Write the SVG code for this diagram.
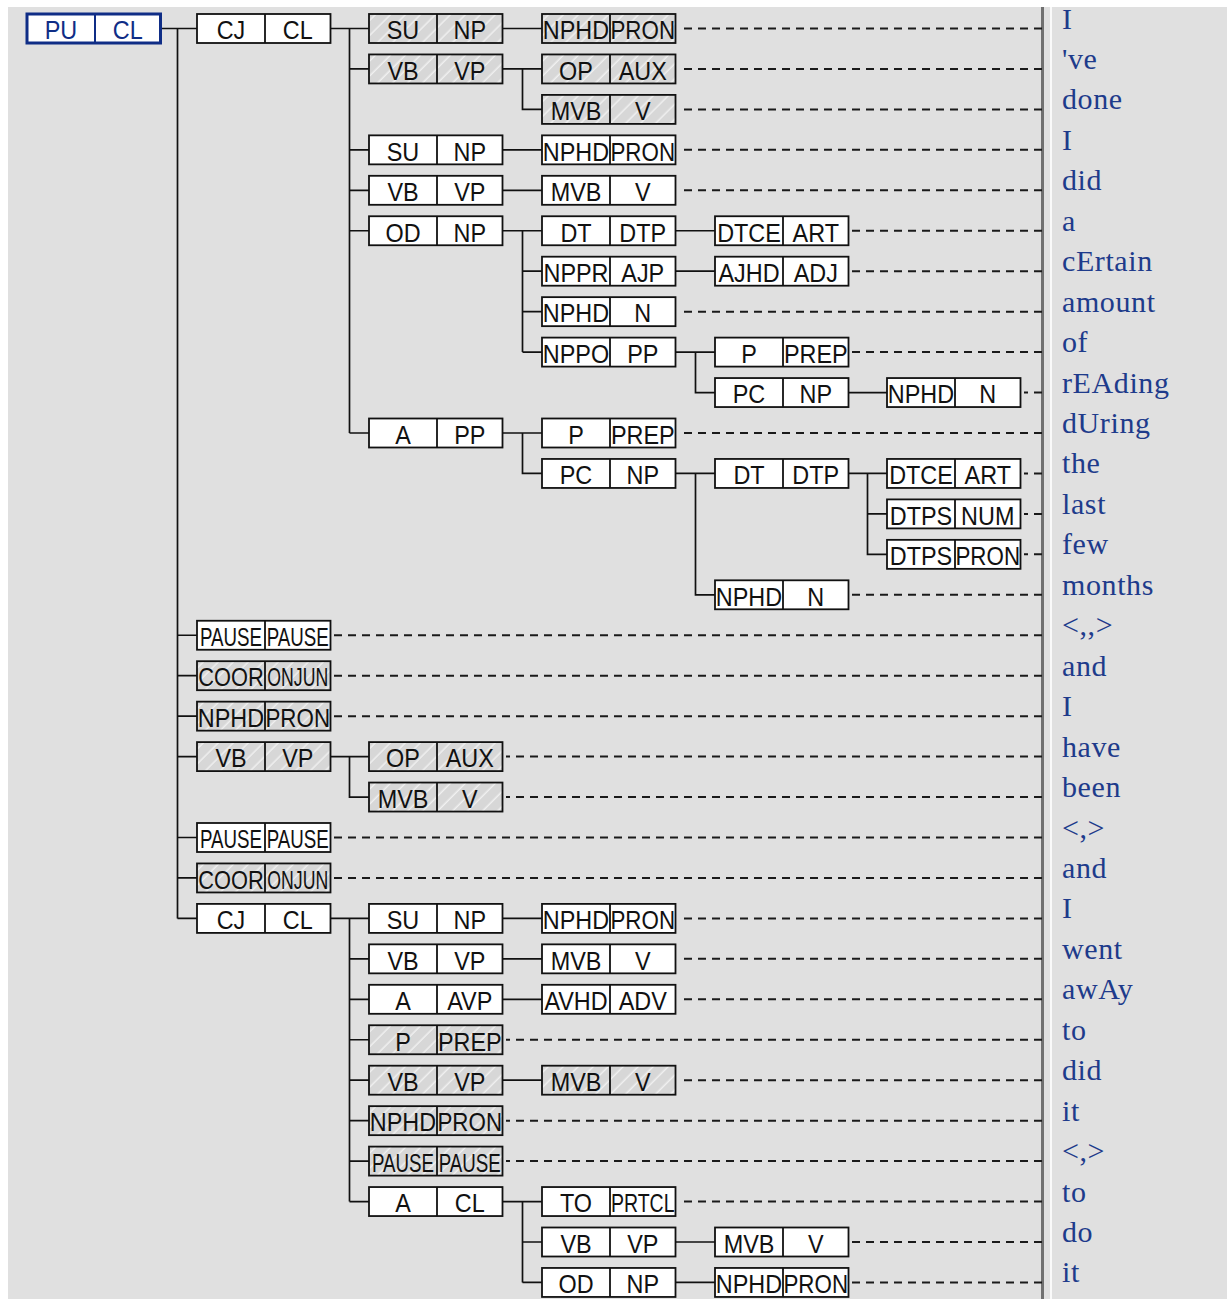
<svg xmlns="http://www.w3.org/2000/svg" width="1227" height="1302" viewBox="0 0 1227 1302">
<defs>
<pattern id="hatch" patternUnits="userSpaceOnUse" width="10.6" height="10.6" patternTransform="rotate(45)">
<rect width="10.6" height="10.6" fill="#d7d7d7"/>
<line x1="5" y1="0" x2="5" y2="10.6" stroke="#f6f6f6" stroke-width="1.2"/>
</pattern>
</defs>
<style>
.bg{fill:#e0e0e0}
.bx rect{fill:#fff;stroke:#111;stroke-width:1.8}
.bx.h rect{fill:url(#hatch)}
.bx path{stroke:#111;stroke-width:1.8;fill:none}
.bx text{font-family:"Liberation Sans",Arial,sans-serif;font-size:26px;text-anchor:middle;fill:#111;transform:scaleX(0.9);transform-box:fill-box;transform-origin:center}
.bx text.s86{transform:scaleX(0.86)}
.bx text.s84{transform:scaleX(0.84)}
.bx text.s75{transform:scaleX(0.75)}
.bx text.s72{transform:scaleX(0.72)}
.bx text.s68{transform:scaleX(0.68)}
.root rect{stroke:#0f2d86;stroke-width:3}
.root path{stroke:#0f2d86;stroke-width:2}
.root text{fill:#0f2d86}
#connectors path{stroke:#111;stroke-width:1.7;fill:none}
#dashes path{stroke:#1a1a1a;stroke-width:2;fill:none;stroke-dasharray:8 6}
.w{font-family:"Liberation Serif","Times New Roman",serif;font-size:30px;letter-spacing:0.6px;fill:#1e3b8b}
</style>
<rect width="1227" height="1302" fill="#fff"/>
<rect class="bg" x="8" y="7" width="1219" height="1292"/>
<rect x="1041" y="7" width="3" height="1292" fill="#707070"/>
<rect x="1050" y="7" width="2" height="1292" fill="#fafafa"/>

<g id="connectors">
<path d="M160.5 28.5H197M177.5 28.5V918.4M177.5 635.25H197M177.5 675.7H197M177.5 716.15H197M177.5 756.6H197M177.5 837.5H197M177.5 877.95H197M177.5 918.4H197"/>
<path d="M330.5 28.5H369M349.5 28.5V433M349.5 68.95H369M349.5 149.85H369M349.5 190.3H369M349.5 230.75H369M349.5 433H369"/>
<path d="M502.5 28.5H542"/>
<path d="M502.5 68.95H542M522.5 68.95V109.4H542"/>
<path d="M502.5 149.85H542"/>
<path d="M502.5 190.3H542"/>
<path d="M502.5 230.75H542M522.5 230.75V352.1M522.5 271.2H542M522.5 311.65H542M522.5 352.1H542"/>
<path d="M675.5 230.75H715"/>
<path d="M675.5 271.2H715"/>
<path d="M675.5 352.1H715M695.5 352.1V392.55H715"/>
<path d="M848.5 392.55H887"/>
<path d="M502.5 433H542M522.5 433V473.45H542"/>
<path d="M675.5 473.45H715M695.5 473.45V594.8H715"/>
<path d="M848.5 473.45H887M867.5 473.45V554.35H887M867.5 513.9H887"/>
<path d="M330.5 756.6H369M349.5 756.6V797.05H369"/>
<path d="M330.5 918.4H369M349.5 918.4V1201.55M349.5 958.85H369M349.5 999.3H369M349.5 1039.75H369M349.5 1080.2H369M349.5 1120.65H369M349.5 1161.1H369M349.5 1201.55H369"/>
<path d="M502.5 918.4H542"/>
<path d="M502.5 958.85H542"/>
<path d="M502.5 999.3H542"/>
<path d="M502.5 1080.2H542"/>
<path d="M502.5 1201.55H542M522.5 1201.55V1282.45M522.5 1242H542M522.5 1282.45H542"/>
<path d="M675.5 1242H715"/>
<path d="M675.5 1282.45H715"/>
</g>

<g id="dashes">
<path d="M1042 28.5H679"/>
<path d="M1042 68.95H679"/>
<path d="M1042 109.4H679"/>
<path d="M1042 149.85H679"/>
<path d="M1042 190.3H679"/>
<path d="M1042 230.75H852"/>
<path d="M1042 271.2H852"/>
<path d="M1042 311.65H679"/>
<path d="M1042 352.1H852"/>
<path d="M1042 392.55H1024"/>
<path d="M1042 433H679"/>
<path d="M1042 473.45H1024"/>
<path d="M1042 513.9H1024"/>
<path d="M1042 554.35H1024"/>
<path d="M1042 594.8H852"/>
<path d="M1042 635.25H334"/>
<path d="M1042 675.7H334"/>
<path d="M1042 716.15H334"/>
<path d="M1042 756.6H506"/>
<path d="M1042 797.05H506"/>
<path d="M1042 837.5H334"/>
<path d="M1042 877.95H334"/>
<path d="M1042 918.4H679"/>
<path d="M1042 958.85H679"/>
<path d="M1042 999.3H679"/>
<path d="M1042 1039.75H506"/>
<path d="M1042 1080.2H679"/>
<path d="M1042 1120.65H506"/>
<path d="M1042 1161.1H506"/>
<path d="M1042 1201.55H679"/>
<path d="M1042 1242H852"/>
<path d="M1042 1282.45H852"/>
</g>

<g id="n0" class="bx root" transform="translate(27,14)"><rect width="133.5" height="29"/><path d="M68 0V29"/><text x="34" y="25.3">PU</text><text x="100.75" y="25.3">CL</text></g>

<g id="n1" class="bx" transform="translate(197,14)"><rect width="133.5" height="29"/><path d="M68 0V29"/><text x="34" y="25.3">CJ</text><text x="100.75" y="25.3">CL</text></g>
<g id="n2" class="bx" transform="translate(197,620.75)"><rect width="133.5" height="29"/><path d="M68 0V29"/><text class="s72" x="34" y="25.3">PAUSE</text><text class="s72" x="100.75" y="25.3">PAUSE</text></g>
<g id="n3" class="bx h" transform="translate(197,661.2)"><rect width="133.5" height="29"/><path d="M68 0V29"/><text class="s84" x="34" y="25.3">COOR</text><text class="s68" x="100.75" y="25.3">ONJUN</text></g>
<g id="n4" class="bx h" transform="translate(197,701.65)"><rect width="133.5" height="29"/><path d="M68 0V29"/><text x="34" y="25.3">NPHD</text><text class="s86" x="100.75" y="25.3">PRON</text></g>
<g id="n5" class="bx h" transform="translate(197,742.1)"><rect width="133.5" height="29"/><path d="M68 0V29"/><text x="34" y="25.3">VB</text><text x="100.75" y="25.3">VP</text></g>
<g id="n6" class="bx" transform="translate(197,823)"><rect width="133.5" height="29"/><path d="M68 0V29"/><text class="s72" x="34" y="25.3">PAUSE</text><text class="s72" x="100.75" y="25.3">PAUSE</text></g>
<g id="n7" class="bx h" transform="translate(197,863.45)"><rect width="133.5" height="29"/><path d="M68 0V29"/><text class="s84" x="34" y="25.3">COOR</text><text class="s68" x="100.75" y="25.3">ONJUN</text></g>
<g id="n8" class="bx" transform="translate(197,903.9)"><rect width="133.5" height="29"/><path d="M68 0V29"/><text x="34" y="25.3">CJ</text><text x="100.75" y="25.3">CL</text></g>

<g id="n9" class="bx h" transform="translate(369,14)"><rect width="133.5" height="29"/><path d="M68 0V29"/><text x="34" y="25.3">SU</text><text x="100.75" y="25.3">NP</text></g>
<g id="n10" class="bx h" transform="translate(369,54.45)"><rect width="133.5" height="29"/><path d="M68 0V29"/><text x="34" y="25.3">VB</text><text x="100.75" y="25.3">VP</text></g>
<g id="n11" class="bx" transform="translate(369,135.35)"><rect width="133.5" height="29"/><path d="M68 0V29"/><text x="34" y="25.3">SU</text><text x="100.75" y="25.3">NP</text></g>
<g id="n12" class="bx" transform="translate(369,175.8)"><rect width="133.5" height="29"/><path d="M68 0V29"/><text x="34" y="25.3">VB</text><text x="100.75" y="25.3">VP</text></g>
<g id="n13" class="bx" transform="translate(369,216.25)"><rect width="133.5" height="29"/><path d="M68 0V29"/><text x="34" y="25.3">OD</text><text x="100.75" y="25.3">NP</text></g>
<g id="n14" class="bx" transform="translate(369,418.5)"><rect width="133.5" height="29"/><path d="M68 0V29"/><text x="34" y="25.3">A</text><text x="100.75" y="25.3">PP</text></g>
<g id="n15" class="bx h" transform="translate(369,742.1)"><rect width="133.5" height="29"/><path d="M68 0V29"/><text x="34" y="25.3">OP</text><text x="100.75" y="25.3">AUX</text></g>
<g id="n16" class="bx h" transform="translate(369,782.55)"><rect width="133.5" height="29"/><path d="M68 0V29"/><text x="34" y="25.3">MVB</text><text x="100.75" y="25.3">V</text></g>
<g id="n17" class="bx" transform="translate(369,903.9)"><rect width="133.5" height="29"/><path d="M68 0V29"/><text x="34" y="25.3">SU</text><text x="100.75" y="25.3">NP</text></g>
<g id="n18" class="bx" transform="translate(369,944.35)"><rect width="133.5" height="29"/><path d="M68 0V29"/><text x="34" y="25.3">VB</text><text x="100.75" y="25.3">VP</text></g>
<g id="n19" class="bx" transform="translate(369,984.8)"><rect width="133.5" height="29"/><path d="M68 0V29"/><text x="34" y="25.3">A</text><text x="100.75" y="25.3">AVP</text></g>
<g id="n20" class="bx h" transform="translate(369,1025.25)"><rect width="133.5" height="29"/><path d="M68 0V29"/><text x="34" y="25.3">P</text><text x="100.75" y="25.3">PREP</text></g>
<g id="n21" class="bx h" transform="translate(369,1065.7)"><rect width="133.5" height="29"/><path d="M68 0V29"/><text x="34" y="25.3">VB</text><text x="100.75" y="25.3">VP</text></g>
<g id="n22" class="bx h" transform="translate(369,1106.15)"><rect width="133.5" height="29"/><path d="M68 0V29"/><text x="34" y="25.3">NPHD</text><text class="s86" x="100.75" y="25.3">PRON</text></g>
<g id="n23" class="bx h" transform="translate(369,1146.6)"><rect width="133.5" height="29"/><path d="M68 0V29"/><text class="s72" x="34" y="25.3">PAUSE</text><text class="s72" x="100.75" y="25.3">PAUSE</text></g>
<g id="n24" class="bx" transform="translate(369,1187.05)"><rect width="133.5" height="29"/><path d="M68 0V29"/><text x="34" y="25.3">A</text><text x="100.75" y="25.3">CL</text></g>

<g id="n25" class="bx h" transform="translate(542,14)"><rect width="133.5" height="29"/><path d="M68 0V29"/><text x="34" y="25.3">NPHD</text><text class="s86" x="100.75" y="25.3">PRON</text></g>
<g id="n26" class="bx h" transform="translate(542,54.45)"><rect width="133.5" height="29"/><path d="M68 0V29"/><text x="34" y="25.3">OP</text><text x="100.75" y="25.3">AUX</text></g>
<g id="n27" class="bx h" transform="translate(542,94.9)"><rect width="133.5" height="29"/><path d="M68 0V29"/><text x="34" y="25.3">MVB</text><text x="100.75" y="25.3">V</text></g>
<g id="n28" class="bx" transform="translate(542,135.35)"><rect width="133.5" height="29"/><path d="M68 0V29"/><text x="34" y="25.3">NPHD</text><text class="s86" x="100.75" y="25.3">PRON</text></g>
<g id="n29" class="bx" transform="translate(542,175.8)"><rect width="133.5" height="29"/><path d="M68 0V29"/><text x="34" y="25.3">MVB</text><text x="100.75" y="25.3">V</text></g>
<g id="n30" class="bx" transform="translate(542,216.25)"><rect width="133.5" height="29"/><path d="M68 0V29"/><text x="34" y="25.3">DT</text><text x="100.75" y="25.3">DTP</text></g>
<g id="n31" class="bx" transform="translate(542,256.7)"><rect width="133.5" height="29"/><path d="M68 0V29"/><text x="34" y="25.3">NPPR</text><text x="100.75" y="25.3">AJP</text></g>
<g id="n32" class="bx" transform="translate(542,297.15)"><rect width="133.5" height="29"/><path d="M68 0V29"/><text x="34" y="25.3">NPHD</text><text x="100.75" y="25.3">N</text></g>
<g id="n33" class="bx" transform="translate(542,337.6)"><rect width="133.5" height="29"/><path d="M68 0V29"/><text x="34" y="25.3">NPPO</text><text x="100.75" y="25.3">PP</text></g>
<g id="n34" class="bx" transform="translate(542,418.5)"><rect width="133.5" height="29"/><path d="M68 0V29"/><text x="34" y="25.3">P</text><text x="100.75" y="25.3">PREP</text></g>
<g id="n35" class="bx" transform="translate(542,458.95)"><rect width="133.5" height="29"/><path d="M68 0V29"/><text x="34" y="25.3">PC</text><text x="100.75" y="25.3">NP</text></g>
<g id="n36" class="bx" transform="translate(542,903.9)"><rect width="133.5" height="29"/><path d="M68 0V29"/><text x="34" y="25.3">NPHD</text><text class="s86" x="100.75" y="25.3">PRON</text></g>
<g id="n37" class="bx" transform="translate(542,944.35)"><rect width="133.5" height="29"/><path d="M68 0V29"/><text x="34" y="25.3">MVB</text><text x="100.75" y="25.3">V</text></g>
<g id="n38" class="bx" transform="translate(542,984.8)"><rect width="133.5" height="29"/><path d="M68 0V29"/><text x="34" y="25.3">AVHD</text><text x="100.75" y="25.3">ADV</text></g>
<g id="n39" class="bx h" transform="translate(542,1065.7)"><rect width="133.5" height="29"/><path d="M68 0V29"/><text x="34" y="25.3">MVB</text><text x="100.75" y="25.3">V</text></g>
<g id="n40" class="bx" transform="translate(542,1187.05)"><rect width="133.5" height="29"/><path d="M68 0V29"/><text x="34" y="25.3">TO</text><text class="s75" x="100.75" y="25.3">PRTCL</text></g>
<g id="n41" class="bx" transform="translate(542,1227.5)"><rect width="133.5" height="29"/><path d="M68 0V29"/><text x="34" y="25.3">VB</text><text x="100.75" y="25.3">VP</text></g>
<g id="n42" class="bx" transform="translate(542,1267.95)"><rect width="133.5" height="29"/><path d="M68 0V29"/><text x="34" y="25.3">OD</text><text x="100.75" y="25.3">NP</text></g>

<g id="n43" class="bx" transform="translate(715,216.25)"><rect width="133.5" height="29"/><path d="M68 0V29"/><text x="34" y="25.3">DTCE</text><text x="100.75" y="25.3">ART</text></g>
<g id="n44" class="bx" transform="translate(715,256.7)"><rect width="133.5" height="29"/><path d="M68 0V29"/><text x="34" y="25.3">AJHD</text><text x="100.75" y="25.3">ADJ</text></g>
<g id="n45" class="bx" transform="translate(715,337.6)"><rect width="133.5" height="29"/><path d="M68 0V29"/><text x="34" y="25.3">P</text><text x="100.75" y="25.3">PREP</text></g>
<g id="n46" class="bx" transform="translate(715,378.05)"><rect width="133.5" height="29"/><path d="M68 0V29"/><text x="34" y="25.3">PC</text><text x="100.75" y="25.3">NP</text></g>
<g id="n47" class="bx" transform="translate(715,458.95)"><rect width="133.5" height="29"/><path d="M68 0V29"/><text x="34" y="25.3">DT</text><text x="100.75" y="25.3">DTP</text></g>
<g id="n48" class="bx" transform="translate(715,580.3)"><rect width="133.5" height="29"/><path d="M68 0V29"/><text x="34" y="25.3">NPHD</text><text x="100.75" y="25.3">N</text></g>
<g id="n49" class="bx" transform="translate(715,1227.5)"><rect width="133.5" height="29"/><path d="M68 0V29"/><text x="34" y="25.3">MVB</text><text x="100.75" y="25.3">V</text></g>
<g id="n50" class="bx" transform="translate(715,1267.95)"><rect width="133.5" height="29"/><path d="M68 0V29"/><text x="34" y="25.3">NPHD</text><text class="s86" x="100.75" y="25.3">PRON</text></g>

<g id="n51" class="bx" transform="translate(887,378.05)"><rect width="133.5" height="29"/><path d="M68 0V29"/><text x="34" y="25.3">NPHD</text><text x="100.75" y="25.3">N</text></g>
<g id="n52" class="bx" transform="translate(887,458.95)"><rect width="133.5" height="29"/><path d="M68 0V29"/><text x="34" y="25.3">DTCE</text><text x="100.75" y="25.3">ART</text></g>
<g id="n53" class="bx" transform="translate(887,499.4)"><rect width="133.5" height="29"/><path d="M68 0V29"/><text x="34" y="25.3">DTPS</text><text x="100.75" y="25.3">NUM</text></g>
<g id="n54" class="bx" transform="translate(887,539.85)"><rect width="133.5" height="29"/><path d="M68 0V29"/><text x="34" y="25.3">DTPS</text><text class="s86" x="100.75" y="25.3">PRON</text></g>

<g id="words" class="w">
<text x="1062" y="28.5">I</text>
<text x="1062" y="68.95">'ve</text>
<text x="1062" y="109.4">done</text>
<text x="1062" y="149.85">I</text>
<text x="1062" y="190.3">did</text>
<text x="1062" y="230.75">a</text>
<text x="1062" y="271.2">cErtain</text>
<text x="1062" y="311.65">amount</text>
<text x="1062" y="352.1">of</text>
<text x="1062" y="392.55">rEAding</text>
<text x="1062" y="433">dUring</text>
<text x="1062" y="473.45">the</text>
<text x="1062" y="513.9">last</text>
<text x="1062" y="554.35">few</text>
<text x="1062" y="594.8">months</text>
<text x="1062" y="635.25">&lt;,,&gt;</text>
<text x="1062" y="675.7">and</text>
<text x="1062" y="716.15">I</text>
<text x="1062" y="756.6">have</text>
<text x="1062" y="797.05">been</text>
<text x="1062" y="837.5">&lt;,&gt;</text>
<text x="1062" y="877.95">and</text>
<text x="1062" y="918.4">I</text>
<text x="1062" y="958.85">went</text>
<text x="1062" y="999.3">awAy</text>
<text x="1062" y="1039.75">to</text>
<text x="1062" y="1080.2">did</text>
<text x="1062" y="1120.65">it</text>
<text x="1062" y="1161.1">&lt;,&gt;</text>
<text x="1062" y="1201.55">to</text>
<text x="1062" y="1242">do</text>
<text x="1062" y="1282.45">it</text>
</g>
</svg>
